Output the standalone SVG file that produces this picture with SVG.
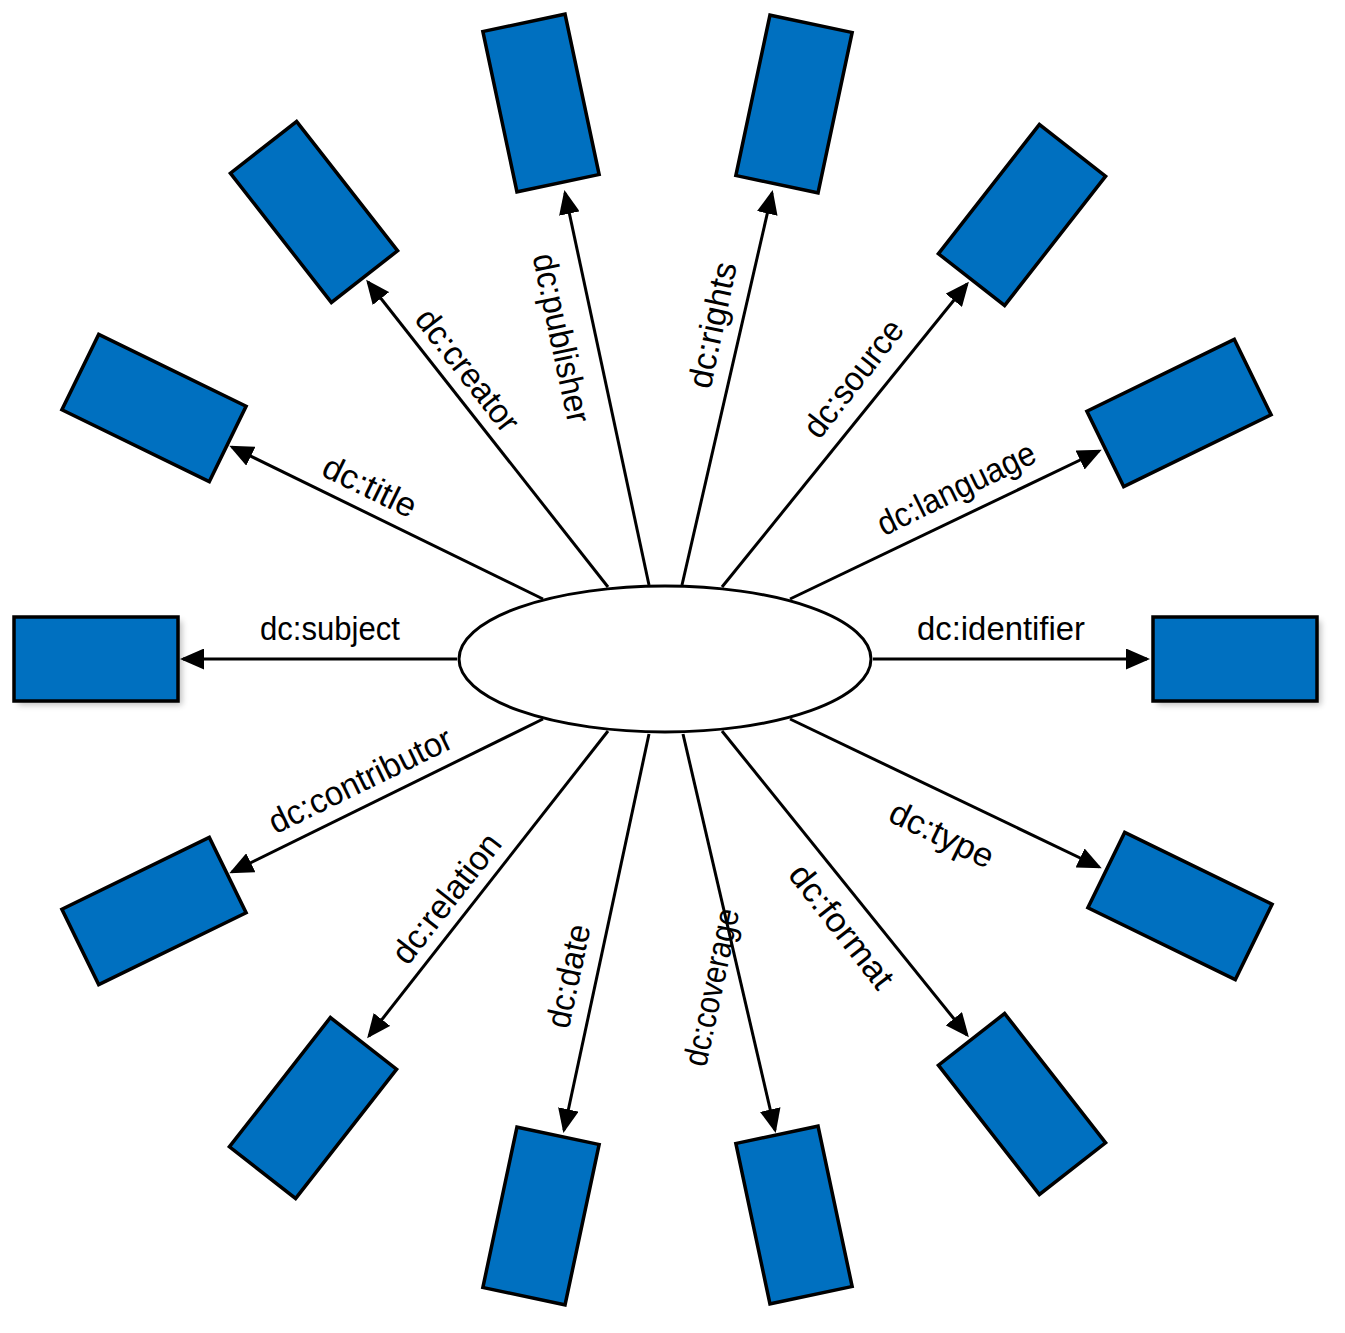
<svg xmlns="http://www.w3.org/2000/svg" width="1345" height="1333" viewBox="0 0 1345 1333">
<style>
.b{fill:#0070C0;stroke:#000;stroke-width:3.5}
.s{fill:#000;opacity:0.25}
.c line{stroke:#000;stroke-width:3;marker-end:url(#a)}
text{font-family:"Liberation Sans",Arial,sans-serif;font-size:34px;fill:#000;text-anchor:middle;dominant-baseline:central}
</style>
<defs>
<marker id="a" markerWidth="8" markerHeight="7" refX="7" refY="3.5" orient="auto" markerUnits="strokeWidth"><path d="M0,0L8,3.5L0,7z" fill="#000"/></marker>
<filter id="f" x="-20%" y="-20%" width="140%" height="140%"><feGaussianBlur stdDeviation="3"/></filter>
</defs>
<rect width="1345" height="1333" fill="#fff"/>
<g id="connectors" class="c">
<line x1="457" y1="659" x2="183" y2="659"/>
<line x1="873" y1="659" x2="1147" y2="659"/>
<line x1="543" y1="599" x2="232" y2="447"/>
<line x1="608" y1="587" x2="368" y2="282"/>
<line x1="649" y1="585" x2="565" y2="193"/>
<line x1="682" y1="585" x2="772" y2="193"/>
<line x1="722" y1="587" x2="967" y2="284"/>
<line x1="790" y1="599" x2="1099" y2="451"/>
<line x1="790" y1="719" x2="1099" y2="867"/>
<line x1="722" y1="731" x2="967" y2="1035"/>
<line x1="683" y1="734" x2="775" y2="1130"/>
<line x1="649" y1="734" x2="564" y2="1130"/>
<line x1="608" y1="731" x2="369" y2="1036"/>
<line x1="543" y1="719" x2="232" y2="872"/>
</g>
<g id="labels">
<text x="330" y="628" textLength="140" lengthAdjust="spacingAndGlyphs">dc:subject</text>
<text x="1001" y="628" textLength="168" lengthAdjust="spacingAndGlyphs">dc:identifier</text>
<text transform="translate(370,486) rotate(26)" textLength="100" lengthAdjust="spacingAndGlyphs">dc:title</text>
<text transform="translate(468,370) rotate(52)" textLength="146" lengthAdjust="spacingAndGlyphs">dc:creator</text>
<text transform="translate(562,338) rotate(78)" textLength="172" lengthAdjust="spacingAndGlyphs">dc:publisher</text>
<text transform="translate(712,325) rotate(-78)" textLength="128" lengthAdjust="spacingAndGlyphs">dc:rights</text>
<text transform="translate(853,378) rotate(-52)" textLength="140" lengthAdjust="spacingAndGlyphs">dc:source</text>
<text transform="translate(956,488) rotate(-26)" textLength="172" lengthAdjust="spacingAndGlyphs">dc:language</text>
<text transform="translate(942,834) rotate(26)" textLength="112" lengthAdjust="spacingAndGlyphs">dc:type</text>
<text transform="translate(842,926) rotate(52)" textLength="148" lengthAdjust="spacingAndGlyphs">dc:format</text>
<text transform="translate(711,987) rotate(-78)" textLength="160" lengthAdjust="spacingAndGlyphs">dc:coverage</text>
<text transform="translate(568,976) rotate(-78)" textLength="105" lengthAdjust="spacingAndGlyphs">dc:date</text>
<text transform="translate(446,898) rotate(-52)" textLength="155" lengthAdjust="spacingAndGlyphs">dc:relation</text>
<text transform="translate(360,780) rotate(-26)" textLength="200" lengthAdjust="spacingAndGlyphs">dc:contributor</text>
</g>
<g id="center"><ellipse cx="665" cy="659" rx="206" ry="73" fill="#fff" stroke="#000" stroke-width="3"/></g>
<g id="boxes">
<g id="subject" transform="translate(96,659)"><rect class="s" x="-78" y="-38" width="164" height="84" filter="url(#f)"/><rect class="b" x="-82" y="-42" width="164" height="84"/></g>
<g id="identifier" transform="translate(1235,659)"><rect class="s" x="-78" y="-38" width="164" height="84" filter="url(#f)"/><rect class="b" x="-82" y="-42" width="164" height="84"/></g>
<g id="title" transform="translate(154,408) rotate(26)"><rect class="b" x="-82" y="-42" width="164" height="84"/></g>
<g id="creator" transform="translate(314,212) rotate(52)"><rect class="b" x="-82" y="-42" width="164" height="84"/></g>
<g id="publisher" transform="translate(541,103) rotate(78)"><rect class="b" x="-82" y="-42" width="164" height="84"/></g>
<g id="rights" transform="translate(794,104) rotate(-78)"><rect class="b" x="-82" y="-42" width="164" height="84"/></g>
<g id="source" transform="translate(1022,215) rotate(-52)"><rect class="b" x="-82" y="-42" width="164" height="84"/></g>
<g id="language" transform="translate(1179,413) rotate(-26)"><rect class="b" x="-82" y="-42" width="164" height="84"/></g>
<g id="type" transform="translate(1180,906) rotate(26)"><rect class="b" x="-82" y="-42" width="164" height="84"/></g>
<g id="format" transform="translate(1022,1104) rotate(52)"><rect class="b" x="-82" y="-42" width="164" height="84"/></g>
<g id="coverage" transform="translate(794,1215) rotate(78)"><rect class="b" x="-82" y="-42" width="164" height="84"/></g>
<g id="date" transform="translate(541,1216) rotate(-78)"><rect class="b" x="-82" y="-42" width="164" height="84"/></g>
<g id="relation" transform="translate(313,1108) rotate(-52)"><rect class="b" x="-82" y="-42" width="164" height="84"/></g>
<g id="contributor" transform="translate(154,911) rotate(-26)"><rect class="b" x="-82" y="-42" width="164" height="84"/></g>
</g>
</svg>
